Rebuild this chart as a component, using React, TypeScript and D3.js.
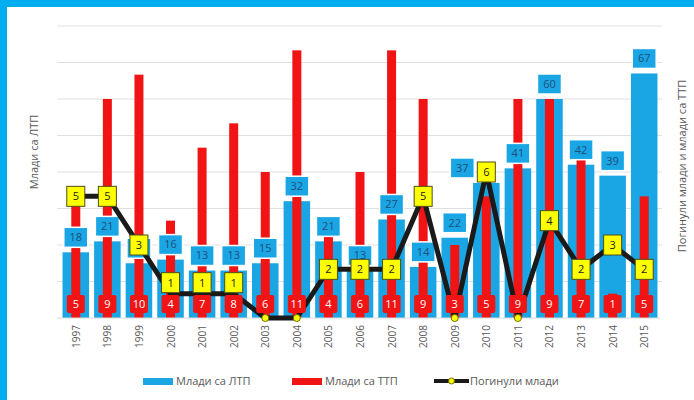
import { useEffect, useRef } from 'react';
import * as d3 from 'd3';

const years = ['1997', '1998', '1999', '2000', '2001', '2002', '2003', '2004', '2005', '2006', '2007', '2008', '2009', '2010', '2011', '2012', '2013', '2014', '2015'];
const youthLtp = [18, 21, 15, 16, 13, 13, 15, 32, 21, 13, 27, 14, 22, 37, 41, 60, 42, 39, 67];
const youthTtp = [5, 9, 10, 4, 7, 8, 6, 11, 4, 6, 11, 9, 3, 5, 9, 9, 7, 1, 5];
const youthKilled = [5, 5, 3, 1, 1, 1, 0, 0, 2, 2, 2, 5, 0, 6, 0, 4, 2, 3, 2];
const leftTicks = [0, 10, 20, 30, 40, 50, 60, 70, 80];

const BLUE = '#1aa6e4';
const RED = '#f01414';
const YELLOW = '#ffff00';
const FONT = 'Open Sans, sans-serif';

export default function App() {
    const svgRef = useRef(null);

    useEffect(() => {
        const width = 694;
        const height = 400;
        const m = { top: 26, right: 34, bottom: 82, left: 60 };
        const innerW = width - m.left - m.right;
        const innerH = height - m.top - m.bottom;

        const svg = d3.select(svgRef.current);
        svg.selectAll('*').remove();

        // frame
        svg.append('rect').attr('width', width).attr('height', height).attr('fill', '#fff');
        svg.append('rect').attr('x', 0).attr('y', 0).attr('width', width).attr('height', 7).attr('fill', '#00aeef');
        svg.append('rect').attr('x', 0).attr('y', 0).attr('width', 7).attr('height', height).attr('fill', '#00aeef');

        const x = d3.scaleBand().domain(years).range([0, innerW]).paddingInner(0.16).paddingOuter(0.08);
        const yLeft = d3.scaleLinear().domain([0, 80]).range([innerH, 0]);
        const yRight = d3.scaleLinear().domain([0, 12]).range([innerH, 0]);
        const cx = (i) => x(years[i]) + x.bandwidth() / 2;

        const g = svg.append('g').attr('transform', `translate(${m.left},${m.top})`);

        // gridlines
        g.selectAll('.grid')
            .data(leftTicks.slice(1))
            .enter()
            .append('line')
            .attr('x1', -3)
            .attr('x2', innerW + 2)
            .attr('y1', (d) => yLeft(d))
            .attr('y2', (d) => yLeft(d))
            .attr('stroke', '#e0e0e0')
            .attr('stroke-width', 1);

        // blue bars
        g.selectAll('.ltp')
            .data(youthLtp)
            .enter()
            .append('rect')
            .attr('x', (d, i) => x(years[i]))
            .attr('y', (d) => yLeft(d))
            .attr('width', x.bandwidth())
            .attr('height', (d) => innerH - yLeft(d))
            .attr('fill', BLUE);

        // red bars
        const redW = 9;
        g.selectAll('.ttp')
            .data(youthTtp)
            .enter()
            .append('rect')
            .attr('x', (d, i) => cx(i) - redW / 2)
            .attr('y', (d) => yRight(d))
            .attr('width', redW)
            .attr('height', (d) => innerH - yRight(d))
            .attr('fill', RED);

        // axis line
        g.append('line')
            .attr('x1', -3)
            .attr('x2', innerW)
            .attr('y1', innerH)
            .attr('y2', innerH)
            .attr('stroke', '#d9d9d9')
            .attr('stroke-width', 1);

        // blue labels above bars (the 2010 one was nudged left in the original)
        const blueShift = (i) => (years[i] === '2010' ? -24 : 0);
        const blueLab = g.selectAll('.ltpLab').data(youthLtp).enter().append('g')
            .attr('transform', (d, i) => `translate(${cx(i) + blueShift(i)},${yLeft(d) - 15})`);
        blueLab.append('rect')
            .attr('x', -12).attr('y', -10).attr('width', 24).attr('height', 20)
            .attr('fill', BLUE).attr('stroke', '#fff').attr('stroke-width', 1.5);
        blueLab.append('text')
            .attr('text-anchor', 'middle').attr('dy', '0.35em')
            .style('font-family', FONT).style('font-size', '11px').style('fill', '#1f4e79')
            .text((d) => d);

        // killed line
        const line = d3.line()
            .x((d, i) => cx(i))
            .y((d) => yRight(d));
        g.append('path')
            .datum(youthKilled)
            .attr('d', line)
            .attr('fill', 'none')
            .attr('stroke', '#1a1a1a')
            .attr('stroke-width', 5)
            .attr('stroke-linejoin', 'round');

        // red labels at the bottom
        const redLab = g.selectAll('.ttpLab').data(youthTtp).enter().append('g')
            .attr('transform', (d, i) => `translate(${cx(i)},${innerH - 14})`);
        redLab.append('rect')
            .attr('x', -9).attr('y', -9).attr('width', 18).attr('height', 18).attr('rx', 2)
            .attr('fill', RED);
        redLab.append('text')
            .attr('text-anchor', 'middle').attr('dy', '0.35em')
            .style('font-family', FONT).style('font-size', '11px').style('fill', '#fff')
            .text((d) => d);

        // markers; labels for 1 sit a little above the point
        const mk = g.selectAll('.killed').data(youthKilled).enter().append('g')
            .attr('transform', (d, i) => `translate(${cx(i)},${yRight(d) - (d === 1 ? 11 : 0)})`);
        mk.filter((d) => d === 0).append('circle')
            .attr('r', 3.5).attr('fill', YELLOW).attr('stroke', '#6b6b00').attr('stroke-width', 1);
        const nz = mk.filter((d) => d > 0);
        nz.append('rect')
            .attr('x', -9).attr('y', -10).attr('width', 18).attr('height', 20)
            .attr('fill', YELLOW).attr('stroke', '#4d4d1a').attr('stroke-width', 1);
        nz.append('text')
            .attr('text-anchor', 'middle').attr('dy', '0.35em')
            .style('font-family', FONT).style('font-size', '11px').style('fill', '#222')
            .text((d) => d);

        // year labels
        g.selectAll('.year').data(years).enter().append('text')
            .attr('transform', (d, i) => `translate(${cx(i) + 4},${innerH + 7}) rotate(-90)`)
            .attr('text-anchor', 'end')
            .style('font-family', FONT).style('font-size', '10px').style('fill', '#595959')
            .text((d) => d);

        // axis titles
        svg.append('text')
            .attr('transform', `translate(38,152) rotate(-90)`)
            .attr('text-anchor', 'middle')
            .style('font-family', FONT).style('font-size', '11px').style('fill', '#595959')
            .text('Млади са ЛТП');
        svg.append('text')
            .attr('transform', `translate(686,166) rotate(-90)`)
            .attr('text-anchor', 'middle')
            .style('font-family', FONT).style('font-size', '11px').style('fill', '#595959')
            .text('Погинули млади и млади са ТТП');

        // legend
        const lg = svg.append('g').attr('transform', 'translate(0,381)');
        lg.append('rect').attr('x', 143).attr('y', -3).attr('width', 30).attr('height', 7).attr('fill', BLUE);
        lg.append('text').attr('x', 176).attr('dy', '0.35em')
            .style('font-family', FONT).style('font-size', '11px').style('fill', '#595959')
            .text('Млади са ЛТП');
        lg.append('rect').attr('x', 292).attr('y', -3).attr('width', 30).attr('height', 7).attr('fill', RED);
        lg.append('text').attr('x', 325).attr('dy', '0.35em')
            .style('font-family', FONT).style('font-size', '11px').style('fill', '#595959')
            .text('Млади са ТТП');
        lg.append('line').attr('x1', 434).attr('x2', 469).attr('y1', 0).attr('y2', 0)
            .attr('stroke', '#1a1a1a').attr('stroke-width', 4);
        lg.append('circle').attr('cx', 451.5).attr('cy', 0).attr('r', 3)
            .attr('fill', YELLOW).attr('stroke', '#6b6b00').attr('stroke-width', 1);
        lg.append('text').attr('x', 470).attr('dy', '0.35em')
            .style('font-family', FONT).style('font-size', '11px').style('fill', '#595959')
            .text('Погинули млади');
    }, []);

    return (
        <svg ref={svgRef} width={694} height={400} style={{ position: 'absolute', left: 0, top: 0, display: 'block' }}></svg>
    );
}
